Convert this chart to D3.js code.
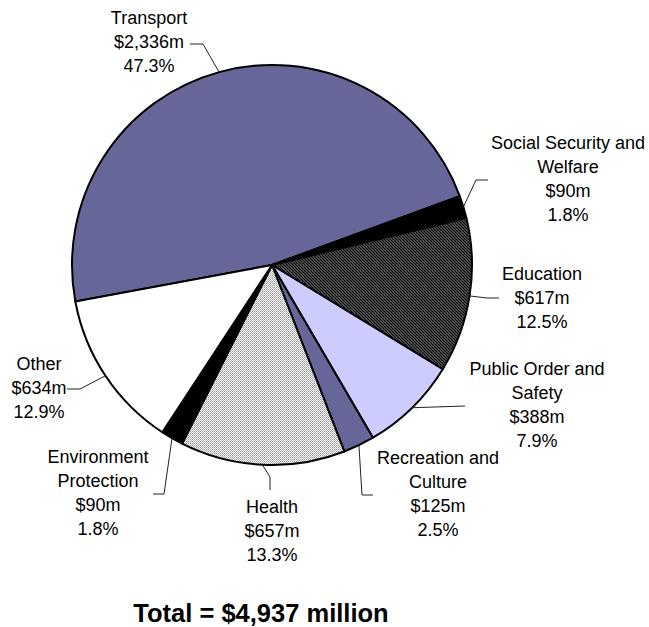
<!DOCTYPE html>
<html>
<head>
<meta charset="utf-8">
<script src="https://cdn.jsdelivr.net/npm/d3@7"></script>
<style>
  html, body { margin: 0; padding: 0; background: #fff; }
  svg { display: block; }
  text { font-family: "Liberation Sans", Arial, sans-serif; fill: #000; }
</style>
</head>
<body>
<svg id="chart" width="649" height="627"></svg>
<script>
// ---- data ----
const categories = ["Transport", "Social Security and\nWelfare", "Education", "Public Order and\nSafety",
                    "Recreation and\nCulture", "Health", "Environment\nProtection", "Other"];
const values = [2336, 90, 617, 388, 125, 657, 90, 634];
const valueLabels = ["$2,336m", "$90m", "$617m", "$388m", "$125m", "$657m", "$90m", "$634m"];
const percentLabels = ["47.3%", "1.8%", "12.5%", "7.9%", "2.5%", "13.3%", "1.8%", "12.9%"];
const totalLabel = "Total = $4,937 million";

// ---- layout / style ----
const W = 649, H = 627;
const cx = 272, cy = 265, R = 200;
const startDeg = -100.5;
const fills = ["#666699", "#000000", "url(#hatchDark)", "#CCCCFF", "#666699", "url(#dotLight)", "#000000", "#FFFFFF"];
// label anchor (centre x, first baseline y) and leader waypoints after the arc point
const labelLayout = [
  { x: 149, y: 24,  leader: [[203, 44], [190, 44]] },
  { x: 568, y: 149, leader: [[476, 180], [488, 180]] },
  { x: 542, y: 280, leader: [[487, 298], [499, 298]] },
  { x: 537, y: 375, leader: [[465, 406]] },
  { x: 438, y: 464, leader: [[362, 495], [373, 495]] },
  { x: 272, y: 513, leader: [[270, 477], [270, 490]] },
  { x: 98,  y: 463, leader: [[164, 494], [153, 494]] },
  { x: 39,  y: 370, leader: [[80, 389], [67, 389]] }
];
const lineH = 24;

const svg = d3.select("#chart");

// patterns
const defs = svg.append("defs");
const hp = defs.append("pattern").attr("id", "hatchDark").attr("patternUnits", "userSpaceOnUse")
  .attr("width", 3).attr("height", 3);
hp.append("rect").attr("width", 3).attr("height", 3).attr("fill", "#ffffff");
hp.append("path").attr("d", "M-1,-1 L4,4 M-1,2 L1,4 M2,-1 L4,1").attr("stroke", "#000").attr("stroke-width", 1.6);

const dp = defs.append("pattern").attr("id", "dotLight").attr("patternUnits", "userSpaceOnUse")
  .attr("width", 2).attr("height", 2);
dp.append("rect").attr("width", 2).attr("height", 2).attr("fill", "#f4f4f4");
dp.append("rect").attr("width", 1).attr("height", 1).attr("fill", "#9a9a9a");
dp.append("rect").attr("x", 1).attr("y", 1).attr("width", 1).attr("height", 1).attr("fill", "#bdbdbd");

const data = categories.map((c, i) => ({ name: c, value: values[i], i }));
const s = startDeg * Math.PI / 180;
const pie = d3.pie().sort(null).value(d => d.value).startAngle(s).endAngle(s + 2 * Math.PI);
const arcs = pie(data);
const arc = d3.arc().innerRadius(0).outerRadius(R);

const g = svg.append("g").attr("transform", `translate(${cx},${cy})`);
g.selectAll("path.slice").data(arcs).enter().append("path")
  .attr("class", "slice")
  .attr("d", arc)
  .attr("fill", d => fills[d.data.i])
  .attr("stroke", "#000")
  .attr("stroke-width", 2)
  .attr("stroke-linejoin", "round");

// leader lines
arcs.forEach(a => {
  const mid = (a.startAngle + a.endAngle) / 2;
  const p0 = [cx + R * Math.sin(mid), cy - R * Math.cos(mid)];
  const pts = [p0].concat(labelLayout[a.data.i].leader);
  svg.append("path")
    .attr("d", d3.line()(pts))
    .attr("fill", "none")
    .attr("stroke", "#222")
    .attr("stroke-width", 1);
});

// labels
data.forEach((d, i) => {
  const lines = d.name.split("\n").concat([valueLabels[i], percentLabels[i]]);
  const L = labelLayout[i];
  const t = svg.append("text").attr("text-anchor", "middle").attr("font-size", 18);
  lines.forEach((ln, k) => {
    t.append("tspan").attr("x", L.x).attr("y", L.y + k * lineH).text(ln);
  });
});

svg.append("text")
  .attr("x", 261).attr("y", 622)
  .attr("text-anchor", "middle")
  .attr("font-size", 25.5)
  .attr("font-weight", "bold")
  .text(totalLabel);
</script>
</body>
</html>
